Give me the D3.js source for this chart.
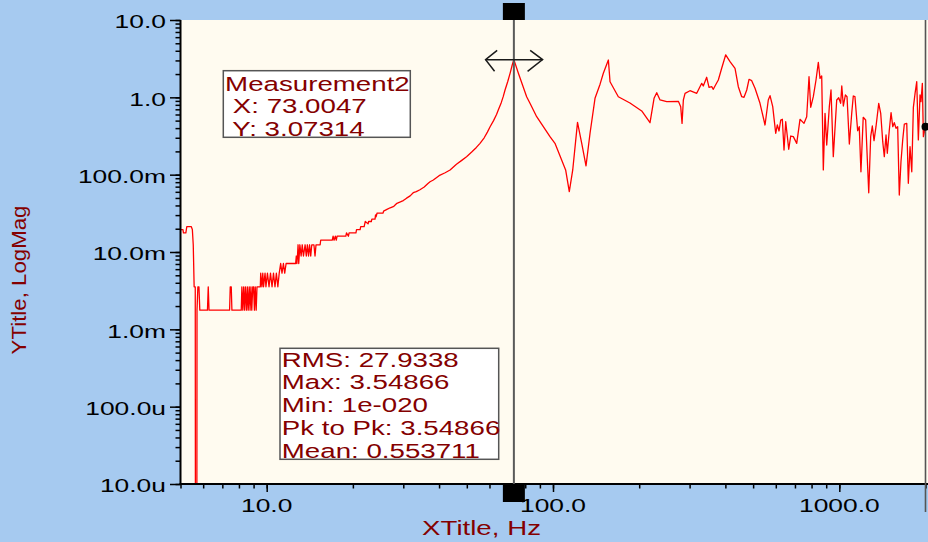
<!DOCTYPE html>
<html><head><meta charset="utf-8">
<script src="https://cdn.jsdelivr.net/npm/d3@7"></script>
<style>
html,body{margin:0;padding:0;background:#A6CAF0;overflow:hidden;}
svg{display:block;}
text{font-family:"Liberation Sans",Arial,sans-serif;white-space:pre;}
</style></head><body>
<svg id="chart" width="928" height="542"></svg>
<script>
// ---------- data (frequency in Hz, magnitude) ----------
const freqHz = [
 5.00,5.10,5.12,5.22,5.26,5.45,5.50,5.54,5.58,5.63,5.67,5.71,5.75,5.80,5.84,6.21,6.25,6.29,7.42,7.46,7.52,7.56,
 8.15,8.19,8.25,8.31,8.37,8.43,8.50,8.56,8.62,8.69,8.75,8.81,8.87,8.94,9.00,9.06,9.12,9.19,9.25,9.50,
 9.53,9.62,9.69,9.75,9.87,9.94,10.06,10.19,10.31,10.44,10.56,10.69,10.81,10.94,11.06,11.19,11.31,11.44,11.56,11.69,
 12.62,12.69,12.75,12.81,12.87,12.94,13.06,13.19,13.31,13.44,13.62,13.75,13.87,14.00,14.12,14.25,14.37,14.62,14.75,14.87,
 15.37,15.44,16.94,17.06,17.19,17.37,17.50,17.62,18.90,19.00,19.30,19.40,20.50,20.60,21.20,21.30,21.90,22.00,22.10,22.60,22.70,
 23.20,23.30,23.90,24.00,24.10,24.30,25.50,25.60,26.30,27.00,27.80,28.50,29.30,30.00,30.80,31.70,32.50,33.30,34.30,35.50,
 36.50,37.20,38.20,40.00,42.00,43.70,46.00,48.00,49.90,52.00,54.00,55.60,57.50,59.00,60.30,62.00,63.50,64.40,66.00,67.00,
 68.00,69.50,70.80,72.00,73.0047,
 75.7,80.9,83.1,87.7,97.6,101.6,107.2,110.7,114.0,117.2,121.8,126.0,130.4,134.7,140.2,146.0,149.9,156.1,158.2,169.1,
 185.7,204.1,218.2,225.4,230.3,236.5,249.6,274.1,279.3,282.3,285.3,289.2,300.9,317.7,330.7,334.9,344.2,350.7,358.4,363.0,
 368.0,377.9,388.3,401.1,415.2,432.3,443.9,456.2,464.7,475.0,483.8,494.3,507.7,528.4,550.2,564.9,572.8,585.4,599.6,607.4,
 615.8,624.3,632.4,641.0,649.9,665.8,676.5,690.8,710.0,729.0,752.9,769.3,783.8,794.5,811.3,829.1,844.7,856.3,868.0,879.3,
 891.5,903.7,922.8,935.4,952.8,979.3,995.2,1011,1020,1033,1050,1064,1084,1105,1119,1134,1159,1174,1190,1212,
 1236,1267,1287,1304,1322,1343,1373,1395,1418,1436,1456,1471,1495,1516,1537,1556,1578,1599,1620,1642,
 1665,1687,1720,1742,1766,1791,1814,1839,1864,1888,1914,1929,1950,1966,2000
];
const magnitude = [
 0.0195,0.0195,0.0177,0.0177,0.0213,0.0213,0.0195,0.0124,0.00355,0.00355,1e-20,0.00177,0.00355,0.00355,0.00177,0.00177,0.00355,0.00177,0.00177,0.00355,0.00355,0.00177,
 0.00177,0.00355,0.00177,0.00355,0.00177,0.00355,0.00177,0.00355,0.00177,0.00355,0.00177,0.00355,0.00177,0.00355,0.00355,0.00177,0.00355,0.00177,0.00355,0.00355,
 0.00532,0.00355,0.00532,0.00355,0.00532,0.00355,0.00532,0.00355,0.00532,0.00355,0.00532,0.00355,0.00532,0.00355,0.00532,0.0071,0.00532,0.0071,0.00532,0.0071,
 0.0071,0.00887,0.0071,0.00887,0.0124,0.0071,0.0124,0.00887,0.0124,0.00887,0.0124,0.00887,0.0124,0.00887,0.0124,0.00887,0.0124,0.0124,0.00887,0.0124,
 0.0124,0.0142,0.0142,0.0160,0.0142,0.0160,0.0142,0.0160,0.0160,0.0177,0.0160,0.0177,0.0177,0.0195,0.0195,0.0213,0.0213,0.0231,0.0248,0.0231,0.0248,
 0.0248,0.0266,0.0266,0.0302,0.0284,0.0319,0.0319,0.0337,0.0355,0.0373,0.0390,0.0426,0.0444,0.0462,0.0497,0.0532,0.0585,0.0603,0.0639,0.0692,
 0.0763,0.0811,0.0854,0.0970,0.106,0.115,0.136,0.153,0.171,0.196,0.225,0.254,0.300,0.355,0.417,0.500,0.600,0.686,0.860,1.02,
 1.244,1.60,2.045,2.60,3.07314,
 2.045,1.019,0.837,0.562,0.310,0.254,0.155,0.115,0.0602,0.115,0.475,0.254,0.130,0.343,0.972,1.48,2.045,3.04,1.593,1.019,
 0.845,0.666,0.470,0.972,1.148,0.924,0.878,0.888,0.757,0.461,0.924,1.127,1.218,1.127,1.518,1.401,1.816,1.348,1.373,1.27,
 1.401,1.675,2.374,3.549,2.89,2.374,1.373,1.019,1.001,1.244,1.711,1.641,1.309,0.837,0.439,0.924,1.05,0.757,0.343,0.439,
 0.367,0.509,0.520,0.208,0.484,0.213,0.316,0.310,0.254,0.520,0.461,0.562,1.848,0.743,1.019,1.675,2.838,1.762,1.887,0.115,
 0.622,0.242,0.757,1.244,0.171,0.924,0.989,0.837,1.401,0.773,1.072,1.019,0.249,0.622,1.04,1.019,0.370,0.417,0.109,0.552,
 0.509,0.0584,0.310,0.426,0.275,0.417,0.837,0.622,0.267,0.171,0.326,0.189,0.378,0.633,0.417,0.470,0.398,0.417,0.0546,0.147,
 0.281,0.452,0.461,0.0773,0.230,0.109,0.743,1.127,1.593,0.281,1.072,0.878,1.518,0.310,0.417
];
const xTickValues = [10, 100, 1000];
const xTickLabels = ["10.0", "100.0", "1000.0"];
const yTickValues = [1e-5, 1e-4, 1e-3, 1e-2, 1e-1, 1, 10];
const yTickLabels = ["10.0u", "100.0u", "1.0m", "10.0m", "100.0m", "1.0", "10.0"];
const cursorFreq = 73.0047;
const cursorMag = 3.07314;
const measurementLines = ["Measurement2", " X: 73.0047", " Y: 3.07314"];
const statsLines = ["RMS: 27.9338", "Max: 3.54866", "Min: 1e-020", "Pk to Pk: 3.54866", "Mean: 0.553711"];
const xTitle = "XTitle, Hz";
const yTitle = "YTitle, LogMag";

// ---------- drawing ----------
(function () {
const W = 928, H = 542;
const SX = 1.42;               // horizontal stretch of the original's text
const TXT = "#840000";
const svg = d3.select("#chart");
const x = d3.scaleLog().domain([5, 2000]).range([180.5, 925.5]);
const y = d3.scaleLog().domain([1e-5, 10]).range([484, 20]);
const pL = x.range()[0], pT = y.range()[1], pB = y.range()[0];

svg.append("rect").attr("width", W).attr("height", H).attr("fill", "#A6CAF0");
svg.append("rect").attr("x", pL).attr("y", pT).attr("width", W - pL).attr("height", pB - pT).attr("fill", "#FFFBF0");

svg.append("defs").append("clipPath").attr("id", "plotclip")
  .append("rect").attr("x", pL).attr("y", pT).attr("width", W - pL).attr("height", pB - pT);

// series
const data = freqHz.map((f, i) => ({ f, v: magnitude[i] }));
const line = d3.line().x(d => x(d.f)).y(d => y(d.v));
svg.append("g").attr("clip-path", "url(#plotclip)")
  .append("path").datum(data).attr("d", line)
  .attr("fill", "none").attr("stroke", "#ff0000").attr("stroke-width", 1.3).attr("stroke-linejoin", "round");

// axes: minor + major ticks
function styleAxis(g) {
  g.select(".domain").remove();
  g.selectAll(".tick line").attr("stroke", "#000").attr("stroke-width", 1.5);
  g.selectAll(".tick text").remove();
}
svg.append("g").attr("transform", `translate(${pL},0)`)
  .call(d3.axisLeft(y).tickValues(y.ticks()).tickSize(5).tickFormat("")).call(styleAxis);
svg.append("g").attr("transform", `translate(${pL},0)`)
  .call(d3.axisLeft(y).tickValues(yTickValues).tickSize(10.5).tickFormat("")).call(styleAxis);
svg.append("g").attr("transform", `translate(0,${pB})`)
  .call(d3.axisBottom(x).tickValues(x.ticks()).tickSize(4.5).tickFormat("")).call(styleAxis);
svg.append("g").attr("transform", `translate(0,${pB})`)
  .call(d3.axisBottom(x).tickValues(xTickValues).tickSize(8).tickFormat("")).call(styleAxis);

// axis lines
svg.append("line").attr("x1", pL).attr("x2", pL).attr("y1", pT).attr("y2", pB + 1).attr("stroke", "#000").attr("stroke-width", 2);
svg.append("line").attr("x1", pL - 1).attr("x2", W).attr("y1", pB).attr("y2", pB).attr("stroke", "#000").attr("stroke-width", 2);

// tick labels
yTickValues.forEach((v, i) => {
  svg.append("text").attr("transform", `translate(${pL - 14.5},${y(v) + 8.3}) scale(${SX},1)`)
    .attr("text-anchor", "end").attr("font-size", 18.6).attr("fill", "#000").text(yTickLabels[i]);
});
xTickValues.forEach((v, i) => {
  svg.append("text").attr("transform", `translate(${x(v)},${pB + 27.7}) scale(${SX},1)`)
    .attr("text-anchor", "middle").attr("font-size", 18.6).attr("fill", "#000").text(xTickLabels[i]);
});

// axis titles
svg.append("text").attr("transform", `translate(481.5,535) scale(${SX},1)`)
  .attr("text-anchor", "middle").attr("font-size", 19.5).attr("fill", TXT).text(xTitle);
svg.append("text").attr("transform", `translate(25.5,280) rotate(-90) scale(1.06,1)`)
  .attr("text-anchor", "middle").attr("font-size", 21).attr("fill", TXT).text(yTitle);

// right cursor
const rx = x(2000);
svg.append("line").attr("x1", rx).attr("x2", rx).attr("y1", pT).attr("y2", pB + 28).attr("stroke", "#555").attr("stroke-width", 1.6);
svg.append("circle").attr("cx", rx).attr("cy", y(magnitude[magnitude.length - 1])).attr("r", 4).attr("fill", "#000");

// main cursor
const cx = x(cursorFreq), cy = y(cursorMag);
svg.append("line").attr("x1", cx).attr("x2", cx).attr("y1", pT).attr("y2", pB).attr("stroke", "#5a5a5a").attr("stroke-width", 2);
svg.append("rect").attr("x", cx - 11).attr("y", 3).attr("width", 22).attr("height", pT - 3).attr("fill", "#000");
svg.append("rect").attr("x", cx - 11).attr("y", pB).attr("width", 22).attr("height", 18).attr("fill", "#000");
const arrow = svg.append("g").attr("fill", "none").attr("stroke", "#1a1a1a").attr("stroke-width", 1.5);
arrow.append("line").attr("x1", cx - 28.3).attr("x2", cx + 28.7).attr("y1", cy).attr("y2", cy);
arrow.append("path").attr("d", `M${cx - 16.7},${cy - 9.3}L${cx - 28.3},${cy}L${cx - 19.3},${cy + 11.7}`);
arrow.append("path").attr("d", `M${cx + 16.3},${cy - 9.3}L${cx + 28.7},${cy}L${cx + 13.7},${cy + 11.7}`);

// text boxes
function textBox(x0, y0, w, h, lines, firstBase, pitch) {
  svg.append("rect").attr("x", x0).attr("y", y0).attr("width", w).attr("height", h)
    .attr("fill", "#fff").attr("stroke", "#555").attr("stroke-width", 1.5);
  lines.forEach((s, i) => {
    svg.append("text").attr("transform", `translate(${x0 + 1.8},${firstBase + i * pitch}) scale(${SX},1)`)
      .attr("font-size", 19.5).attr("fill", TXT).attr("xml:space", "preserve").text(s);
  });
}
textBox(223.3, 70.7, 187, 66.6, measurementLines, 90.5, 22.6);
textBox(280, 348.3, 218.7, 111, statsLines, 366.7, 22.7);
})();
</script>
</body></html>
